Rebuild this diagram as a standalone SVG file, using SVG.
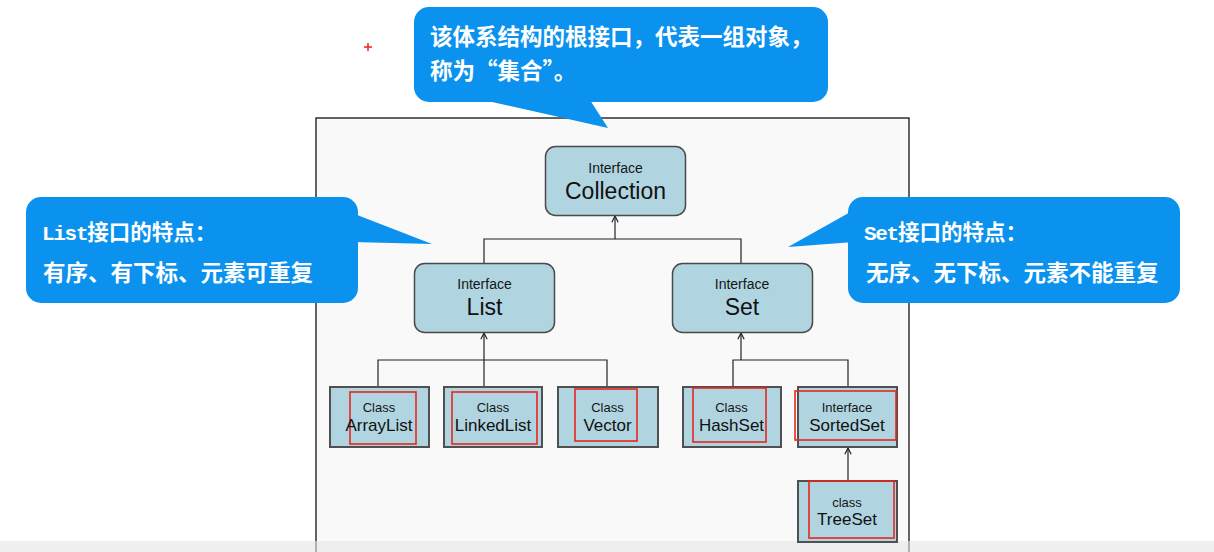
<svg xmlns="http://www.w3.org/2000/svg" width="1214" height="552" viewBox="0 0 1214 552">
<defs>
<style>
.iface{fill:#b0d5e1;stroke:#4a4a4a;stroke-width:1.5}
.cls{fill:#b0d5e1;stroke:#505050;stroke-width:2}
.red{fill:none;stroke:#e8261e;stroke-width:1.6}
.small{font-family:"Liberation Sans",Arial,sans-serif;font-size:14px;fill:#151515;text-anchor:middle}
.big{font-family:"Liberation Sans",Arial,sans-serif;font-size:23px;fill:#111;text-anchor:middle}
.csmall{font-family:"Liberation Sans",Arial,sans-serif;font-size:13px;fill:#151515;text-anchor:middle}
.cbig{font-family:"Liberation Sans",Arial,sans-serif;font-size:17px;fill:#111;text-anchor:middle}
.conn{fill:none;stroke:#222;stroke-width:1.2}
.bubble{fill:#0b92ee}
.btext{font-family:"Noto Sans CJK SC",sans-serif;font-weight:bold;font-size:21.5px;fill:#fff}
.mono{font-family:"Liberation Mono",monospace;font-size:21px;letter-spacing:-1.3px}
.btext2{font-family:"Noto Sans CJK SC",sans-serif;font-weight:bold;font-size:22.5px;fill:#fff}
</style>
<marker id="arr" viewBox="0 0 10 10" refX="9" refY="5" markerWidth="9" markerHeight="9" orient="auto" markerUnits="userSpaceOnUse">
<path d="M2,1.5 L9,5 L2,8.5" fill="none" stroke="#222" stroke-width="1.3"/>
</marker>
</defs>
<rect x="0" y="0" width="1214" height="552" fill="#ffffff"/>
<g id="frame">
<rect x="316" y="118" width="593" height="460" fill="#f9f9f9" stroke="#111" stroke-width="1.3"/>
</g>
<rect x="0" y="541" width="1214" height="11" fill="#e6e6e6" opacity="0.6"/>
<g id="connectors">
<path class="conn" d="M615,239 V216" marker-end="url(#arr)"/>
<path class="conn" d="M484,263 V239 H741 V263"/>
<path class="conn" d="M484,386 V333" marker-end="url(#arr)"/>
<path class="conn" d="M378,386 V360 H607 V386"/>
<path class="conn" d="M741,360 V333" marker-end="url(#arr)"/>
<path class="conn" d="M733,386 V360 H848 V386"/>
<path class="conn" d="M848,481 V448" marker-end="url(#arr)"/>
</g>
<g id="collection">
<rect class="iface" x="545.5" y="146.5" width="140" height="69" rx="10"/>
<text class="small" x="615.5" y="173">Interface</text>
<text class="big" x="615.5" y="199">Collection</text>
</g>
<g id="list">
<rect class="iface" x="414.5" y="263.5" width="140" height="69" rx="10"/>
<text class="small" x="484.5" y="289">Interface</text>
<text class="big" x="484.5" y="315">List</text>
</g>
<g id="set">
<rect class="iface" x="672.5" y="263.5" width="140" height="69" rx="10"/>
<text class="small" x="742" y="289">Interface</text>
<text class="big" x="742" y="315">Set</text>
</g>
<g id="arraylist">
<rect class="cls" x="330" y="387" width="99" height="60"/>
<rect class="red" x="350" y="392" width="66" height="52"/>
<text class="csmall" x="379" y="412">Class</text>
<text class="cbig" x="379" y="431">ArrayList</text>
</g>
<g id="linkedlist">
<rect class="cls" x="444" y="387" width="98" height="60"/>
<rect class="red" x="452" y="392" width="85" height="52"/>
<text class="csmall" x="493" y="412">Class</text>
<text class="cbig" x="493" y="431">LinkedList</text>
</g>
<g id="vector">
<rect class="cls" x="558" y="387" width="100" height="60"/>
<rect class="red" x="575" y="389" width="62" height="52"/>
<text class="csmall" x="607.5" y="412">Class</text>
<text class="cbig" x="607.5" y="431">Vector</text>
</g>
<g id="hashset">
<rect class="cls" x="683" y="387" width="98" height="60"/>
<rect class="red" x="693" y="388" width="73" height="54"/>
<text class="csmall" x="731.5" y="412">Class</text>
<text class="cbig" x="731.5" y="431">HashSet</text>
</g>
<g id="sortedset">
<rect class="cls" x="798" y="387" width="99" height="60"/>
<rect class="red" x="795" y="391" width="101" height="49"/>
<text class="csmall" x="847" y="412">Interface</text>
<text class="cbig" x="847" y="431">SortedSet</text>
</g>
<g id="treeset">
<rect class="cls" x="798" y="481" width="99" height="61"/>
<rect class="red" x="809" y="481" width="85" height="57"/>
<text class="csmall" x="847" y="507">class</text>
<text class="cbig" x="847" y="525">TreeSet</text>
</g>
<g id="callout-top">
<rect class="bubble" x="414" y="7" width="414" height="95" rx="15"/>
<polygon class="bubble" points="483,100 590,100 608,128"/>
<text class="btext2" x="430" y="45">该体系结构的根接口，代表一组对象，</text>
<text class="btext2" x="430" y="79">称为“集合”。</text>
</g>
<g id="callout-list">
<rect class="bubble" x="26" y="197" width="332" height="106" rx="15"/>
<polygon class="bubble" points="352,213 432,244 352,242"/>
<text class="btext" x="42" y="240"><tspan class="mono">List</tspan>接口的特点：</text>
<text class="btext2" x="43" y="281">有序、有下标、元素可重复</text>
</g>
<g id="callout-set">
<rect class="bubble" x="848" y="197" width="332" height="106" rx="15"/>
<polygon class="bubble" points="854,210 788,247 854,242"/>
<text class="btext" x="864" y="240"><tspan class="mono">Set</tspan>接口的特点：</text>
<text class="btext2" x="866" y="281">无序、无下标、元素不能重复</text>
</g>
<g id="cursor">
<path d="M364,47 H372 M368,43 V51" stroke="#e8261e" stroke-width="1.5"/>
</g>
</svg>
